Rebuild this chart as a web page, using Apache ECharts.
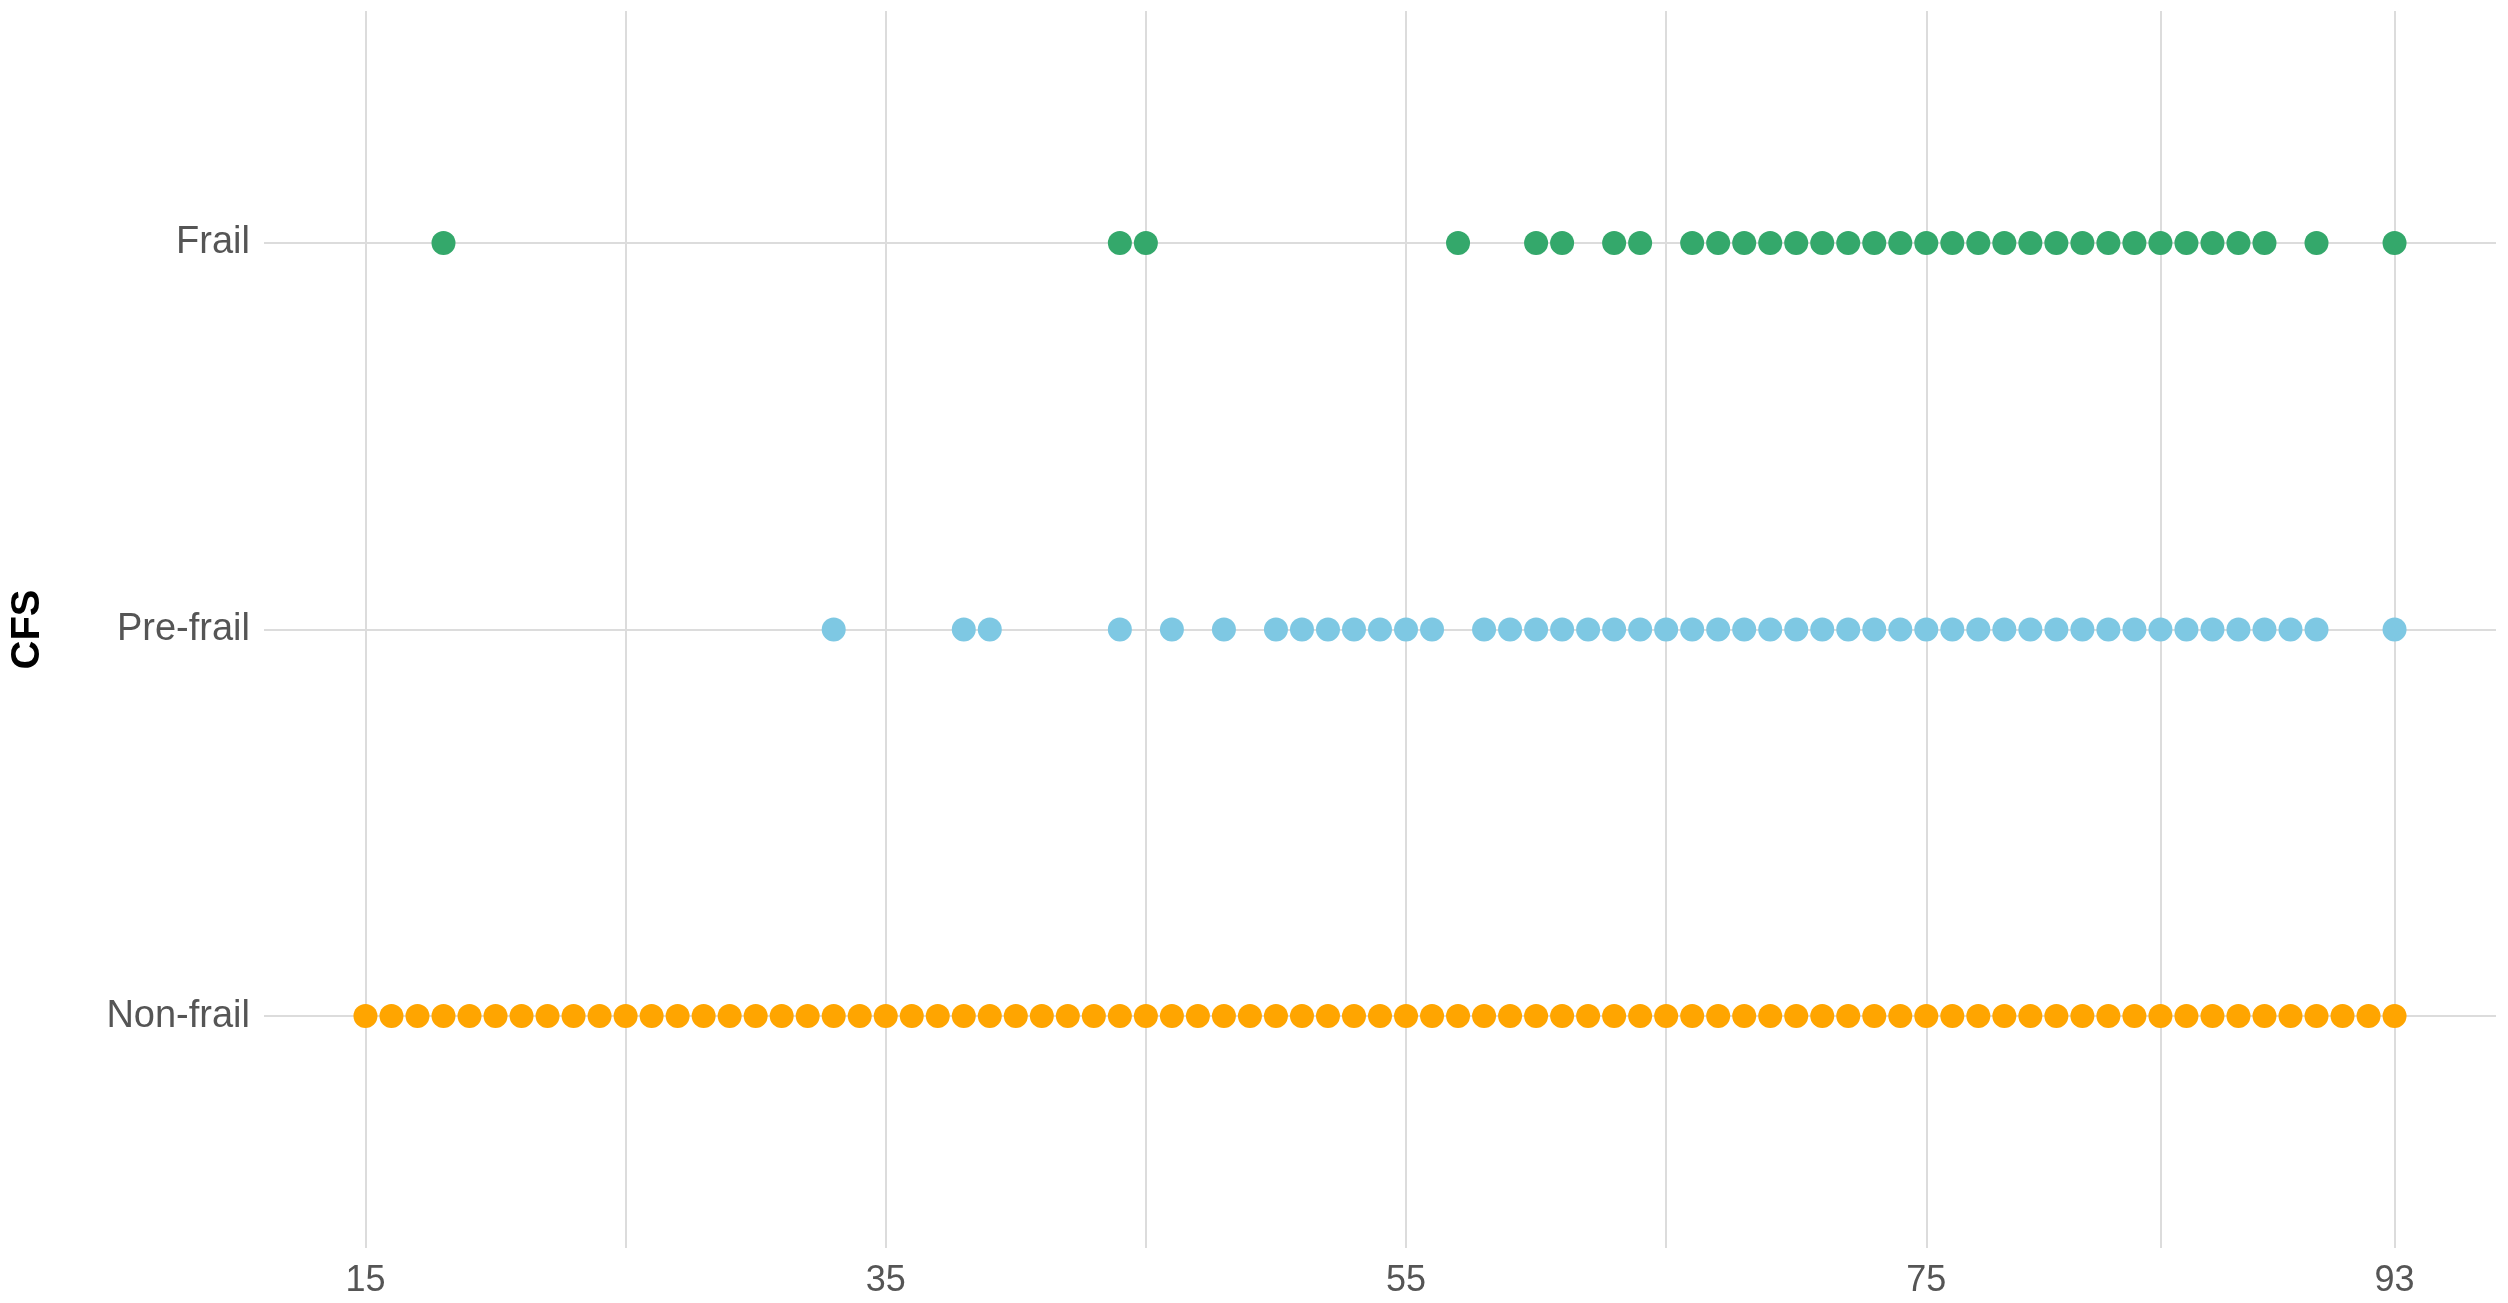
<!DOCTYPE html>
<html>
<head>
<meta charset="utf-8">
<script src="https://cdn.jsdelivr.net/npm/echarts@6/dist/echarts.min.js"></script>
<style>
  html, body { margin: 0; padding: 0; background: #fff; }
  #chart { width: 2508px; height: 1303px; }
</style>
</head>
<body>
<div id="chart"></div>
<script>
// CFS levels, bottom to top
var levels = ['Non-frail', 'Pre-frail', 'Frail'];

// ages observed per CFS level
var nonFrailAges = [15, 16, 17, 18, 19, 20, 21, 22, 23, 24, 25, 26, 27, 28, 29, 30, 31, 32, 33, 34,
    35, 36, 37, 38, 39, 40, 41, 42, 43, 44, 45, 46, 47, 48, 49, 50, 51, 52, 53, 54,
    55, 56, 57, 58, 59, 60, 61, 62, 63, 64, 65, 66, 67, 68, 69, 70, 71, 72, 73, 74,
    75, 76, 77, 78, 79, 80, 81, 82, 83, 84, 85, 86, 87, 88, 89, 90, 91, 92, 93];
var preFrailAges = [33, 38, 39, 44, 46, 48, 50, 51, 52, 53, 54, 55, 56,
    58, 59, 60, 61, 62, 63, 64, 65, 66, 67, 68, 69, 70, 71, 72, 73, 74, 75, 76, 77,
    78, 79, 80, 81, 82, 83, 84, 85, 86, 87, 88, 89, 90, 93];
var frailAges = [18, 44, 45, 57, 60, 61, 63, 64,
    66, 67, 68, 69, 70, 71, 72, 73, 74, 75, 76, 77, 78, 79, 80, 81, 82, 83, 84, 85,
    86, 87, 88, 90, 93];

// axis ticks
var xLabelTicks = [15, 35, 55, 75, 93];
var xGridTicks = [15, 25, 35, 45, 55, 65, 75, 84, 93];

function toPoints(ages, level) {
    return ages.map(function (a) { return [a, level]; });
}

var myChart = echarts.init(document.getElementById('chart'));
var gridColor = '#dcdcdc';
var textColor = '#555555';

var option = {
    backgroundColor: '#ffffff',
    animation: false,
    grid: { left: 258, right: 12, top: 11, bottom: 55 },
    xAxis: {
        type: 'value',
        min: 11.1,
        max: 96.9,
        axisLine: { show: false },
        axisTick: { show: false, customValues: xGridTicks },
        axisLabel: {
            customValues: xLabelTicks,
            margin: 15,
            fontSize: 36,
            color: textColor,
            fontFamily: 'Liberation Sans'
        },
        splitLine: { show: true, lineStyle: { color: gridColor, width: 2 } }
    },
    yAxis: {
        type: 'value',
        min: -0.6,
        max: 2.6,
        name: 'CFS',
        nameLocation: 'middle',
        nameGap: 216,
        nameTextStyle: {
            fontSize: 40,
            fontWeight: 'bold',
            color: '#000000',
            fontFamily: 'Liberation Sans'
        },
        axisLine: { show: false },
        axisTick: { show: false, customValues: [0, 1, 2] },
        axisLabel: {
            customValues: [0, 1, 2],
            margin: 14,
            fontSize: 38,
            color: textColor,
            fontFamily: 'Liberation Sans',
            padding: [6, 0, 0, 0],
            formatter: function (v) { return levels[Math.round(v)]; }
        },
        splitLine: { show: true, lineStyle: { color: gridColor, width: 2 } }
    },
    series: [
        {
            name: 'Non-frail',
            type: 'scatter',
            symbolSize: 24,
            itemStyle: { color: '#FFA500', opacity: 1 },
            data: toPoints(nonFrailAges, 0)
        },
        {
            name: 'Pre-frail',
            type: 'scatter',
            symbolSize: 24,
            itemStyle: { color: '#7EC8E3', opacity: 1 },
            data: toPoints(preFrailAges, 1)
        },
        {
            name: 'Frail',
            type: 'scatter',
            symbolSize: 24,
            itemStyle: { color: '#34A86B', opacity: 1 },
            data: toPoints(frailAges, 2)
        }
    ]
};

myChart.setOption(option);
</script>
</body>
</html>
